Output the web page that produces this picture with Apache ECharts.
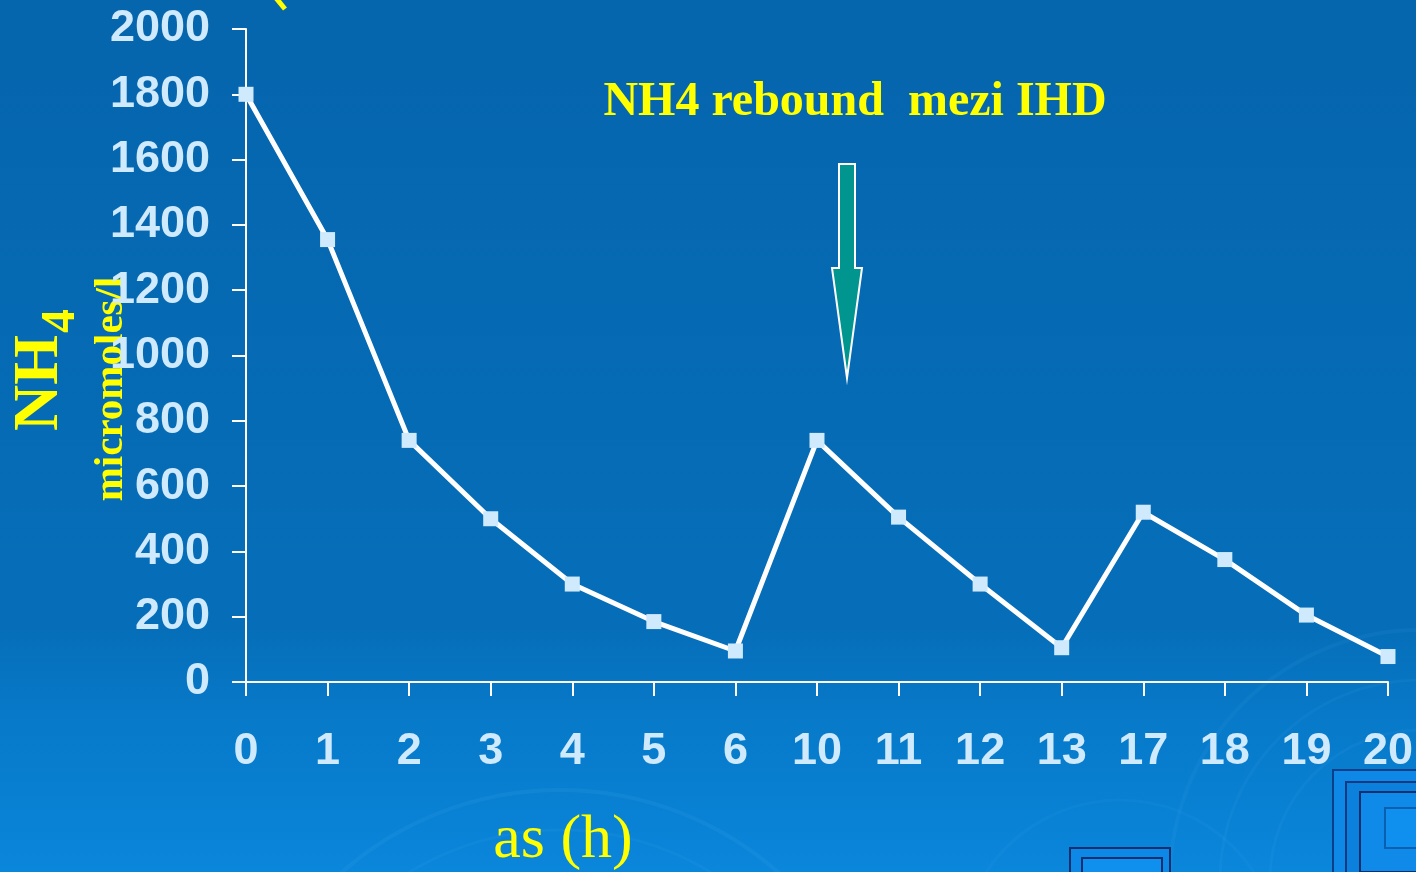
<!DOCTYPE html>
<html>
<head>
<meta charset="utf-8">
<script src="https://cdn.jsdelivr.net/npm/echarts@6/dist/echarts.min.js"></script>
<style>
  html, body { margin: 0; padding: 0; background: #0567ae; }
  #chart { width: 1416px; height: 872px; }
</style>
</head>
<body>
<div id="chart"></div>
<script>
// Sampling times (h) and ammonium concentration (micromoles/l)
const hours = ['0', '1', '2', '3', '4', '5', '6', '10', '11', '12', '13', '17', '18', '19', '20'];
const nh4Values = [1800, 1355, 740, 500, 300, 185, 95, 740, 505, 300, 105, 520, 375, 205, 78];
const yTicks = { min: 0, max: 2000, step: 200 };

const labelBlue = '#cfeafc';
const yellow = '#ffff00';

const chart = echarts.init(document.getElementById('chart'), null, { renderer: 'canvas' });

// Faint ripple rings in the background
function ring(cx, cy, r, alpha, w) {
  return {
    type: 'circle', silent: true, z: -5,
    shape: { cx: cx, cy: cy, r: r },
    style: { fill: null, stroke: 'rgba(120,200,255,' + alpha + ')', lineWidth: w }
  };
}
// Nested square frames in the lower corner
function frame(x, y, w, h, stroke, fill) {
  return {
    type: 'rect', silent: true, z: -4,
    shape: { x: x, y: y, width: w, height: h },
    style: { fill: fill, stroke: stroke, lineWidth: 2 }
  };
}

const option = {
  backgroundColor: {
    type: 'linear', x: 0, y: 0, x2: 0, y2: 1,
    colorStops: [
      { offset: 0, color: '#0565ad' },
      { offset: 0.72, color: '#066eb9' },
      { offset: 0.82, color: '#0779c8' },
      { offset: 1, color: '#0a86db' }
    ]
  },
  animation: false,
  grid: { left: 246, right: 26, top: 29, bottom: 190, containLabel: false },
  xAxis: {
    type: 'category',
    data: hours,
    boundaryGap: false,
    axisLine: { lineStyle: { color: '#ffffff', width: 2 } },
    axisTick: { show: true, length: 14, alignWithLabel: true, lineStyle: { color: '#ffffff', width: 2 } },
    axisLabel: {
      interval: 0, margin: 47,
      color: labelBlue, fontSize: 45, fontWeight: 'bold',
      fontFamily: 'Liberation Sans, Arial, sans-serif', lineHeight: 45
    },
    splitLine: { show: false }
  },
  yAxis: {
    type: 'value',
    min: yTicks.min, max: yTicks.max, interval: yTicks.step,
    axisLine: { show: true, lineStyle: { color: '#ffffff', width: 2 } },
    axisTick: { show: true, length: 14, lineStyle: { color: '#ffffff', width: 2 } },
    axisLabel: {
      margin: 36,
      formatter: function (v) { return String(v); },
      color: labelBlue, fontSize: 45, fontWeight: 'bold',
      fontFamily: 'Liberation Sans, Arial, sans-serif'
    },
    splitLine: { show: false }
  },
  series: [{
    type: 'line',
    data: nh4Values,
    symbol: 'rect',
    symbolSize: 15,
    showAllSymbol: true,
    itemStyle: { color: labelBlue },
    lineStyle: { color: '#ffffff', width: 5 },
    z: 3
  }],
  graphic: [
    ring(560, 1120, 330, 0.08, 4),
    ring(560, 1120, 290, 0.06, 3),
    ring(1420, 880, 250, 0.06, 4),
    ring(1420, 880, 200, 0.06, 3),
    ring(1420, 880, 150, 0.06, 3),
    ring(1120, 960, 160, 0.05, 3),
    frame(1333, 770, 100, 110, '#0a3f8a', '#0d88e6'),
    frame(1346, 782, 90, 95, '#0b3a80', '#0b80dd'),
    frame(1360, 792, 80, 80, '#0a2f6e', '#0f8ae8'),
    frame(1385, 808, 60, 40, '#0a5fb0', '#1090ee'),
    frame(1070, 848, 100, 40, '#0a2f6e', '#0d88e6'),
    frame(1082, 858, 80, 30, '#0a2f6e', '#1090ee'),
    // piece of a heading above the visible area
    {
      type: 'line', silent: true,
      shape: { x1: 276, y1: -2, x2: 285, y2: 9 },
      style: { stroke: yellow, lineWidth: 5 }
    },
    // y-axis title
    {
      type: 'text', x: 40, y: 383, rotation: Math.PI / 2,
      style: {
        text: 'NH', fill: yellow, fontSize: 64, fontWeight: 'bold',
        fontFamily: 'Liberation Serif, Times New Roman, serif',
        align: 'center', verticalAlign: 'middle'
      }
    },
    {
      type: 'text', x: 62, y: 321, rotation: Math.PI / 2,
      style: {
        text: '4', fill: yellow, fontSize: 48, fontWeight: 'bold',
        fontFamily: 'Liberation Serif, Times New Roman, serif',
        align: 'center', verticalAlign: 'middle'
      }
    },
    {
      type: 'text', x: 111, y: 389, rotation: Math.PI / 2,
      style: {
        text: 'micromoles/l', fill: yellow, fontSize: 41, fontWeight: 'bold',
        fontFamily: 'Liberation Serif, Times New Roman, serif',
        align: 'center', verticalAlign: 'middle'
      }
    },
    // x-axis title
    {
      type: 'text', x: 563, y: 841,
      style: {
        text: 'as (h)', fill: yellow, fontSize: 62,
        fontFamily: 'Liberation Serif, Times New Roman, serif',
        align: 'center', verticalAlign: 'middle'
      }
    },
    // annotation for the rebound
    {
      type: 'text', x: 855, y: 103,
      style: {
        text: 'NH4 rebound  mezi IHD', fill: yellow, fontSize: 48, fontWeight: 'bold',
        fontFamily: 'Liberation Serif, Times New Roman, serif',
        align: 'center', verticalAlign: 'middle'
      }
    },
    {
      type: 'polygon', z: 10,
      shape: { points: [[839, 164], [855, 164], [855, 268], [862, 268], [847, 378], [832, 268], [839, 268]] },
      style: { fill: '#00968f', stroke: '#ffffff', lineWidth: 2 }
    }
  ]
};

chart.setOption(option);
</script>
</body>
</html>
